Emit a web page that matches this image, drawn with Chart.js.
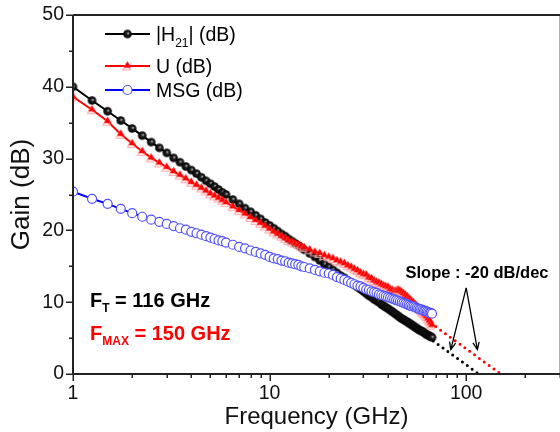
<!DOCTYPE html>
<html>
<head>
<meta charset="utf-8">
<script src="https://cdn.jsdelivr.net/npm/chart.js@4.4.0/dist/chart.umd.min.js"></script>
<style>
  body { margin: 0; background: #fff; }
  canvas { display: block; }
</style>
</head>
<body>
<canvas id="gainChart" width="560" height="432"></canvas>
<script>
// measured frequency points (GHz)
var freqGHz = [1, 1.25, 1.5, 1.75, 2, 2.25, 2.5, 2.75, 3, 3.25, 3.5, 3.75, 4, 4.25, 4.5, 4.75, 5, 5.25, 5.5, 5.75, 6,
  6.5, 7, 7.5, 8, 8.5, 9, 9.5, 10, 10.5, 11, 11.5, 12, 12.5, 13, 13.5, 14, 14.5, 15,
  16, 17, 18, 19, 20, 21, 22, 23, 24, 25, 26, 27, 28, 29, 30, 31, 32, 33, 34, 35, 36, 37, 38, 39, 40,
  41, 42, 43, 44, 45, 46, 47, 48, 49, 50, 51, 52, 53, 54, 55, 56, 57, 58, 59, 60, 61, 62, 63, 64, 65, 66, 67];

var h21dB = [40.0, 38.1, 36.6, 35.3, 34.2, 33.2, 32.3, 31.5, 30.8, 30.1, 29.5, 28.9, 28.4, 27.9, 27.4, 26.9, 26.5, 26.1, 25.7, 25.3, 25.0,
  24.3, 23.7, 23.1, 22.6, 22.1, 21.6, 21.1, 20.7, 20.3, 19.9, 19.5, 19.2, 18.8, 18.5, 18.2, 17.9, 17.6, 17.3,
  16.8, 16.3, 15.8, 15.3, 14.9, 14.5, 14.1, 13.7, 13.4, 13.0, 12.7, 12.4, 12.1, 11.8, 11.5, 11.2, 10.9, 10.7, 10.4, 10.2, 10.0, 9.7, 9.5, 9.3, 9.1,
  8.9, 8.7, 8.5, 8.3, 8.1, 7.9, 7.7, 7.6, 7.4, 7.3, 7.1, 7.0, 6.8, 6.7, 6.5, 6.4, 6.2, 6.1, 6.0, 5.9, 5.8, 5.6, 5.5, 5.4, 5.3, 5.2, 5.1];

var uDB = [38.6, 36.8, 35.2, 33.4, 32.1, 31.0, 30.1, 29.4, 28.8, 28.2, 27.7, 27.2, 26.7, 26.3, 25.9, 25.5, 25.1, 24.8, 24.5, 24.2, 23.9,
  23.3, 22.8, 22.3, 21.8, 21.4, 21.0, 20.6, 20.2, 19.8, 19.5, 19.2, 18.9, 18.6, 18.4, 18.2, 18.0, 17.8, 17.6,
  17.3, 17.0, 16.8, 16.5, 16.3, 16.1, 15.8, 15.6, 15.4, 15.1, 14.9, 14.6, 14.4, 14.1, 13.9, 13.8, 13.4, 13.3, 13.0, 12.8, 12.7, 12.5, 12.3, 12.2, 12.1,
  11.8, 11.7, 11.5, 11.6, 11.7, 11.6, 11.4, 11.2, 11.0, 10.8, 10.5, 10.3, 10.1, 9.9, 9.7, 9.5, 9.2, 9.0, 8.8, 8.6, 8.4, 8.2, 8.0, 7.7, 7.4, 7.1, 6.8];

var msgDB = [25.4, 24.4, 23.7, 23.0, 22.4, 21.9, 21.5, 21.2, 20.9, 20.6, 20.3, 20.1, 19.8, 19.6, 19.4, 19.2, 19.0, 18.8, 18.6, 18.5, 18.3,
  18.0, 17.7, 17.5, 17.2, 17.0, 16.8, 16.6, 16.3, 16.1, 16.0, 15.8, 15.7, 15.5, 15.4, 15.3, 15.2, 15.0, 14.9,
  14.7, 14.5, 14.3, 14.1, 14.0, 13.8, 13.5, 13.3, 13.1, 12.9, 12.7, 12.5, 12.3, 12.2, 12.0, 11.8, 11.7, 11.5, 11.4, 11.3, 11.1, 11.0, 10.9, 10.8, 10.7,
  10.6, 10.5, 10.4, 10.3, 10.2, 10.1, 10.0, 9.9, 9.8, 9.7, 9.6, 9.5, 9.4, 9.4, 9.3, 9.2, 9.1, 9.0, 9.0, 8.9, 8.8, 8.8, 8.7, 8.6, 8.5, 8.5, 8.4];

// -20 dB/dec extrapolations to fT and fmax
var ftExtrapFreq = [68, 116];
var ftExtrapDB = [4.6, 0];
var fmaxExtrapFreq = [70, 150];
var fmaxExtrapDB = [6.6, 0];

var xTickValues = [1, 2, 3, 4, 5, 6, 7, 8, 9, 10, 20, 30, 40, 50, 60, 70, 80, 90, 100, 200, 300];
var xTickLabels = [1, 10, 100];
var yTickLabels = [0, 10, 20, 30, 40, 50];

var FONT = "'Liberation Sans', Arial, sans-serif";

function toPoints(xs, ys) {
  return xs.map(function(x, i) { return { x: x, y: ys[i] }; });
}

function sphereMarker(r) {
  var c = document.createElement('canvas');
  var s = Math.ceil(2 * r + 2);
  c.width = s; c.height = s;
  var g = c.getContext('2d');
  var grad = g.createRadialGradient(s / 2 + 0.8, s / 2 - 0.8, 0.2, s / 2, s / 2, r);
  grad.addColorStop(0, '#b8b8b8');
  grad.addColorStop(0.35, '#222');
  grad.addColorStop(1, '#000');
  g.fillStyle = grad;
  g.beginPath();
  g.arc(s / 2, s / 2, r, 0, Math.PI * 2);
  g.fill();
  return c;
}

function triangleMarker(r) {
  var c = document.createElement('canvas');
  var s = Math.ceil(2 * r + 5);
  c.width = s; c.height = s;
  var g = c.getContext('2d');
  var cx = s / 2, cy = s / 2 - 1;
  function tri(dx, dy) {
    g.beginPath();
    g.moveTo(cx + dx, cy + dy - r);
    g.lineTo(cx + dx + r, cy + dy + r * 0.75);
    g.lineTo(cx + dx - r, cy + dy + r * 0.75);
    g.closePath();
  }
  g.strokeStyle = '#ffa0a0';
  g.lineWidth = 1;
  tri(-1, 2);
  g.stroke();
  g.fillStyle = '#ff0000';
  tri(0, 0);
  g.fill();
  return c;
}

var blackMarker = sphereMarker(4.3);
var redMarker = triangleMarker(3.8);
var MSG_RING = '#5050ff';

var frame = {
  id: 'frame',
  afterDraw: function(chart) {
    var ctx = chart.ctx, a = chart.chartArea;
    var xs = chart.scales.x, ys = chart.scales.y;
    ctx.save();
    // right border (light)
    ctx.strokeStyle = '#b0b0b0';
    ctx.lineWidth = 1;
    ctx.beginPath();
    ctx.moveTo(a.right - 0.5, a.top);
    ctx.lineTo(a.right - 0.5, a.bottom);
    ctx.stroke();
    // axes + top border
    ctx.strokeStyle = '#222';
    ctx.lineWidth = 2;
    ctx.beginPath();
    ctx.moveTo(a.left, a.top);
    ctx.lineTo(a.right, a.top);
    ctx.moveTo(a.left, a.top);
    ctx.lineTo(a.left, a.bottom);
    ctx.lineTo(a.right, a.bottom);
    ctx.stroke();
    // ticks
    ctx.lineWidth = 1.5;
    ctx.beginPath();
    xTickValues.forEach(function(v) {
      var px = Math.round(xs.getPixelForValue(v)) + 0.25;
      var len = xTickLabels.indexOf(v) >= 0 ? 7 : 4;
      ctx.moveTo(px, a.bottom);
      ctx.lineTo(px, a.bottom + len);
    });
    for (var v = 0; v <= 50; v += 5) {
      var py = Math.round(ys.getPixelForValue(v)) + 0.25;
      var len = v % 10 === 0 ? 7 : 4;
      ctx.moveTo(a.left, py);
      ctx.lineTo(a.left - len, py);
    }
    ctx.stroke();

    // legend
    var rows = [
      { y: 34, color: '#000', marker: 'sphere', parts: [['|H', 19.5, 0], ['21', 12, 6], ['| (dB)', 19.5, 0]] },
      { y: 66, color: '#ff0000', marker: 'tri', parts: [['U (dB)', 19.5, 0]] },
      { y: 90, color: '#0000ff', marker: 'circle', parts: [['MSG (dB)', 19.5, 0]] }
    ];
    rows.forEach(function(r) {
      ctx.strokeStyle = r.color;
      ctx.lineWidth = 2;
      ctx.beginPath();
      ctx.moveTo(105, r.y);
      ctx.lineTo(150, r.y);
      ctx.stroke();
      if (r.marker === 'sphere') {
        ctx.drawImage(blackMarker, 127.5 - blackMarker.width / 2, r.y - blackMarker.height / 2);
      } else if (r.marker === 'tri') {
        ctx.drawImage(redMarker, 127.5 - redMarker.width / 2, r.y - redMarker.height / 2);
      } else {
        ctx.fillStyle = '#fff';
        ctx.strokeStyle = MSG_RING;
        ctx.lineWidth = 1.2;
        ctx.beginPath();
        ctx.arc(127.5, r.y, 4.5, 0, Math.PI * 2);
        ctx.fill();
        ctx.stroke();
      }
      var x = 156;
      ctx.fillStyle = '#000';
      ctx.textBaseline = 'alphabetic';
      ctx.textAlign = 'left';
      r.parts.forEach(function(p) {
        ctx.font = p[1] + 'px ' + FONT;
        ctx.fillText(p[0], x, r.y + 7 + p[2]);
        x += ctx.measureText(p[0]).width;
      });
    });

    // fT / fmax text
    function subText(x, y, color, main, sub, rest) {
      ctx.fillStyle = color;
      ctx.font = 'bold 20px ' + FONT;
      ctx.fillText(main, x, y);
      x += ctx.measureText(main).width;
      ctx.font = 'bold 12px ' + FONT;
      ctx.fillText(sub, x, y + 5);
      x += ctx.measureText(sub).width;
      ctx.font = 'bold 20px ' + FONT;
      ctx.fillText(rest, x, y);
    }
    subText(90, 307, '#000', 'F', 'T', ' = 116 GHz');
    subText(90, 340, '#ff0000', 'F', 'MAX', ' = 150 GHz');

    // slope note + arrows
    ctx.fillStyle = '#000';
    ctx.font = 'bold 16.5px ' + FONT;
    ctx.textAlign = 'center';
    ctx.fillText('Slope : -20 dB/dec', 477, 278);
    var apex = [xs.getPixelForValue(100), ys.getPixelForValue(12)];
    var tips = [[xs.getPixelForValue(83.5), ys.getPixelForValue(3.4)],
                [xs.getPixelForValue(114), ys.getPixelForValue(3.4)]];
    ctx.strokeStyle = '#000';
    ctx.lineWidth = 1.3;
    tips.forEach(function(t) {
      var ang = Math.atan2(t[1] - apex[1], t[0] - apex[0]);
      ctx.beginPath();
      ctx.moveTo(apex[0], apex[1]);
      ctx.lineTo(t[0], t[1]);
      ctx.moveTo(t[0] - 8 * Math.cos(ang - 0.4), t[1] - 8 * Math.sin(ang - 0.4));
      ctx.lineTo(t[0], t[1]);
      ctx.lineTo(t[0] - 8 * Math.cos(ang + 0.4), t[1] - 8 * Math.sin(ang + 0.4));
      ctx.stroke();
    });
    ctx.restore();
  }
};

function noScalePadding(s) {
  s.paddingTop = 0; s.paddingBottom = 0; s.paddingLeft = 0; s.paddingRight = 0;
}

new Chart(document.getElementById('gainChart'), {
  type: 'line',
  data: {
    datasets: [
      {
        label: 'MSG (dB)',
        data: toPoints(freqGHz, msgDB),
        borderColor: '#0000ff',
        borderWidth: 2,
        pointStyle: 'circle',
        pointRadius: 4.5,
        pointBorderWidth: 1.2,
        pointBorderColor: MSG_RING,
        pointBackgroundColor: '#fff',
        order: 1
      },
      {
        label: 'U (dB)',
        data: toPoints(freqGHz, uDB),
        borderColor: '#ff0000',
        borderWidth: 2,
        pointStyle: redMarker,
        order: 2
      },
      {
        label: '|H21| (dB)',
        data: toPoints(freqGHz, h21dB),
        borderColor: '#000',
        borderWidth: 2,
        pointStyle: blackMarker,
        order: 3
      },
      {
        label: 'fT extrapolation',
        data: toPoints(ftExtrapFreq, ftExtrapDB),
        borderColor: '#000',
        borderWidth: 3,
        borderDash: [0, 6],
        borderCapStyle: 'round',
        pointRadius: 0,
        order: 4
      },
      {
        label: 'fmax extrapolation',
        data: toPoints(fmaxExtrapFreq, fmaxExtrapDB),
        borderColor: '#ff0000',
        borderWidth: 3,
        borderDash: [0, 6],
        borderCapStyle: 'round',
        pointRadius: 0,
        order: 4
      }
    ]
  },
  options: {
    responsive: false,
    animation: false,
    devicePixelRatio: 1,
    layout: { autoPadding: false, padding: { top: 15, right: 0, left: 0, bottom: 0 } },
    plugins: { legend: { display: false }, tooltip: { enabled: false } },
    scales: {
      x: {
        type: 'logarithmic',
        min: 1,
        max: 300,
        afterFit: function(s) { s.height = 58; noScalePadding(s); },
        afterBuildTicks: function(s) {
          s.ticks = xTickValues.map(function(v) { return { value: v }; });
        },
        grid: { display: false, drawTicks: false },
        border: { display: false },
        ticks: {
          autoSkip: false,
          maxRotation: 0,
          padding: 8,
          color: '#111',
          font: { family: FONT, size: 19.5 },
          callback: function(v) { return xTickLabels.indexOf(v) >= 0 ? String(v) : ''; }
        },
        title: {
          display: true,
          text: 'Frequency (GHz)',
          color: '#111',
          font: { family: FONT, size: 24 },
          padding: { top: 0, bottom: 0 }
        }
      },
      y: {
        min: 0,
        max: 50,
        afterFit: function(s) { s.width = 73; noScalePadding(s); },
        grid: { display: false, drawTicks: false },
        border: { display: false },
        ticks: {
          stepSize: 5,
          padding: 9,
          color: '#111',
          font: { family: FONT, size: 19.5 },
          callback: function(v) { return yTickLabels.indexOf(v) >= 0 ? String(v) : ''; }
        },
        title: {
          display: true,
          text: 'Gain (dB)',
          color: '#111',
          font: { family: FONT, size: 26 },
          padding: { top: 6, bottom: 0 }
        }
      }
    }
  },
  plugins: [frame]
});
</script>
</body>
</html>
